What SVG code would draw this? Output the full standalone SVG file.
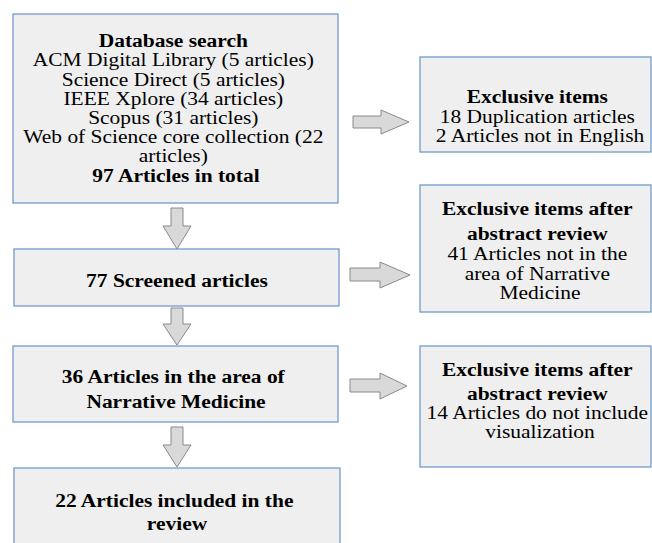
<svg xmlns="http://www.w3.org/2000/svg" width="652" height="543" viewBox="0 0 652 543">
<style>
.box{fill:#efefef;stroke:#6f9bcb;stroke-width:1.3}
.arr{fill:#d9d9d9;stroke:#8a8a8a;stroke-width:1}
.t{font-family:"Times New Roman","Liberation Serif","DejaVu Serif",serif;font-size:18.5px;fill:#000;text-anchor:middle}
.b{font-weight:bold}
</style>
<rect width="652" height="543" fill="#fff"/>
<g id="connectors">
<polygon class="arr" points="171,208 183,208 183,226 191,226 177,249 163,226 171,226"/>
<polygon class="arr" points="171,308 183,308 183,324 191,324 177,345 163,324 171,324"/>
<polygon class="arr" points="171,427 183,427 183,445 191,445 177,467 163,445 171,445"/>
<polygon class="arr" points="353,116 381,116 381,110 409,122 381,134 381,128 353,128"/>
<polygon class="arr" points="350,268 380,268 380,262 410,275 380,288 380,281 350,281"/>
<polygon class="arr" points="350,379 380,379 380,373 407,386 380,399 380,392 350,392"/>
</g>
<g id="database-search">
<rect class="box" x="13" y="14" width="325" height="189"/>
<text class="t" transform="translate(176 0) scale(1.16 1)">
<tspan x="0" y="47" class="b">Database search</tspan>
<tspan x="0" y="66">ACM Digital Library (5 articles)</tspan>
<tspan x="0" y="86">Science Direct (5 articles)</tspan>
<tspan x="0" y="105">IEEE Xplore (34 articles)</tspan>
<tspan x="0" y="124">Scopus (31 articles)</tspan>
<tspan x="0" y="143">Web of Science core collection (22</tspan>
<tspan x="0" y="162">articles)</tspan>
<tspan x="0" y="182" class="b">97 Articles in total</tspan>
</text>
</g>
<g id="screened">
<rect class="box" x="14" y="249" width="325" height="57"/>
<text class="t b" transform="translate(177 0) scale(1.16 1)"><tspan x="0" y="287">77 Screened articles</tspan></text>
</g>
<g id="narrative">
<rect class="box" x="13" y="346" width="325" height="76"/>
<text class="t b" transform="translate(176 0) scale(1.16 1)">
<tspan x="0" y="383">36 Articles in the area of</tspan>
<tspan x="0" y="408">Narrative Medicine</tspan>
</text>
</g>
<g id="included">
<rect class="box" x="14" y="468" width="326" height="90"/>
<text class="t b" transform="translate(177 0) scale(1.16 1)">
<tspan x="0" y="507">22 Articles included in the</tspan>
<tspan x="0" y="530">review</tspan>
</text>
</g>
<g id="exclusive-1">
<rect class="box" x="420" y="57" width="231" height="95"/>
<text class="t" transform="translate(540 0) scale(1.16 1)">
<tspan x="0" y="103" class="b">Exclusive items</tspan>
<tspan x="0" y="123">18 Duplication articles</tspan>
<tspan x="0" y="142">2 Articles not in English</tspan>
</text>
</g>
<g id="exclusive-2">
<rect class="box" x="420" y="185" width="231" height="127"/>
<text class="t" transform="translate(540 0) scale(1.16 1)">
<tspan x="0" y="215" class="b">Exclusive items after</tspan>
<tspan x="0" y="240" class="b">abstract review</tspan>
<tspan x="0" y="260">41 Articles not in the</tspan>
<tspan x="0" y="280">area of Narrative</tspan>
<tspan x="0" y="299">Medicine</tspan>
</text>
</g>
<g id="exclusive-3">
<rect class="box" x="420" y="346" width="231" height="121"/>
<text class="t" transform="translate(540 0) scale(1.16 1)">
<tspan x="0" y="376" class="b">Exclusive items after</tspan>
<tspan x="0" y="400" class="b">abstract review</tspan>
<tspan x="0" y="419">14 Articles do not include</tspan>
<tspan x="0" y="438">visualization</tspan>
</text>
</g>
</svg>
